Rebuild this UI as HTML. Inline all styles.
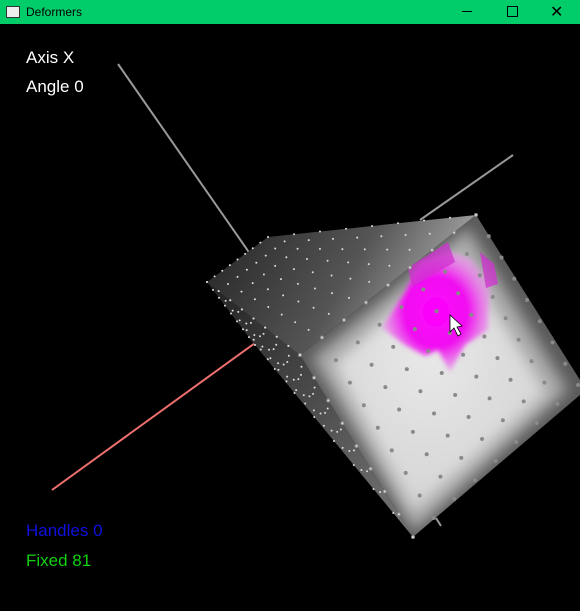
<!DOCTYPE html>
<html><head><meta charset="utf-8"><style>
html,body{margin:0;padding:0;background:#000;width:580px;height:611px;overflow:hidden;font-family:"Liberation Sans",sans-serif}
#title{position:absolute;left:0;top:0;width:580px;height:24px;background:#00cc6a;color:#000;font-size:12px}
#title span{position:absolute;left:26px;top:5px}
.lbl{position:absolute;font-size:17px}
</style></head><body>
<div id="title">
<div style="position:absolute;left:6px;top:6px;width:12px;height:10px;border:1px solid #333;background:#eee"></div>
<span>Deformers</span>
<div style="position:absolute;left:462px;top:11px;width:10px;height:1px;background:#000"></div>
<div style="position:absolute;left:507px;top:6px;width:9px;height:9px;border:1px solid #000"></div>
<div style="position:absolute;left:550px;top:2px;font-size:16px">✕</div>
</div>
<svg width="580" height="587" style="position:absolute;left:0;top:24px" viewBox="0 24 580 587">
<defs>
<linearGradient id="tg" x1="0" y1="0" x2="1" y2="0.3"><stop offset="0" stop-color="#222"/><stop offset="0.6" stop-color="#555"/><stop offset="1" stop-color="#aaa"/></linearGradient>
<linearGradient id="lg" x1="0" y1="0" x2="1" y2="1"><stop offset="0" stop-color="#222"/><stop offset="1" stop-color="#777"/></linearGradient>
<radialGradient id="fg" cx="0.45" cy="0.4" r="0.65"><stop offset="0" stop-color="#e8e8e8"/><stop offset="0.75" stop-color="#d8d8d8"/><stop offset="1" stop-color="#cfcfcf"/></radialGradient>
<radialGradient id="mg"><stop offset="0" stop-color="#ff00ff"/><stop offset="0.6" stop-color="#f010f0"/><stop offset="1" stop-color="#e890e8" stop-opacity="0.7"/></radialGradient>
<filter id="bl" x="-20%" y="-20%" width="140%" height="140%"><feGaussianBlur stdDeviation="7"/></filter>
<filter id="bl2"><feGaussianBlur stdDeviation="2.5"/></filter>
<clipPath id="fc"><polygon points="300,355 476,215 580,380 580,395 413,537"/></clipPath>
</defs>
<line x1="118" y1="64" x2="262" y2="271" stroke="#999" stroke-width="2"/>
<line x1="513" y1="155" x2="420" y2="220" stroke="#999" stroke-width="2"/>
<line x1="52" y1="490" x2="255" y2="343" stroke="#f07070" stroke-width="2"/>
<line x1="436" y1="518" x2="441" y2="526" stroke="#999" stroke-width="2"/>
<polygon points="207,282 268,237 476,215 300,355 255,345" fill="url(#tg)"/>
<polygon points="207,282 255,345 413,537 300,355" fill="url(#lg)"/>
<polygon points="300,355 476,215 580,380 580,395 413,537" fill="#5a5a5a"/>
<g clip-path="url(#fc)">
<polygon points="312,358 468,228 568,390 414,532" fill="#a8a8a8" filter="url(#bl)"/>
<polygon points="333,364 460,254 547,393 414,512" fill="url(#fg)" filter="url(#bl)"/>
</g>
<g filter="url(#bl2)">
<polygon points="382,328 405,292 420,262 452,252 472,260 490,285 488,330 465,345 450,372 438,350 425,356 405,345" fill="url(#mg)"/>
</g>
<polygon points="408,268 448,242 455,262 412,287" fill="#d030d0" opacity="0.75"/>
<polygon points="480,252 494,264 498,284 486,288" fill="#d030d0" opacity="0.75"/>
<g id="dots"></g>
<polygon points="450,315 450,332 454,328 458,336 461,334 457,327 462,326" fill="#fff" stroke="#000" stroke-width="0.8"/>
</svg>
<div class="lbl" style="left:26px;top:48px;color:#fff">Axis X</div>
<div class="lbl" style="left:26px;top:77px;color:#fff">Angle 0</div>
<div class="lbl" style="left:26px;top:521px;color:#1010e0">Handles 0</div>
<div class="lbl" style="left:26px;top:551px;color:#10d010">Fixed 81</div>
<script>
var g=document.getElementById('dots');
function face(A,B,C,D,n,r,col){for(var i=0;i<n;i++)for(var j=0;j<n;j++){var u=i/(n-1),v=j/(n-1);
var x=(1-u)*(1-v)*A[0]+u*(1-v)*B[0]+u*v*C[0]+(1-u)*v*D[0];
var y=(1-u)*(1-v)*A[1]+u*(1-v)*B[1]+u*v*C[1]+(1-u)*v*D[1];
var c=document.createElementNS('http://www.w3.org/2000/svg','circle');


c.setAttribute('cx',x);c.setAttribute('cy',y);c.setAttribute('r',r);c.setAttribute('fill',col);g.appendChild(c);}}
face([300,355],[476,215],[578,385],[413,537],9,2,'#8a8a8a');
face([207,282],[268,237],[476,215],[300,355],9,1,'#ddd');
face([207,282],[300,355],[413,537],[255,345],9,1,'#ddd');
</script>
</body></html>
